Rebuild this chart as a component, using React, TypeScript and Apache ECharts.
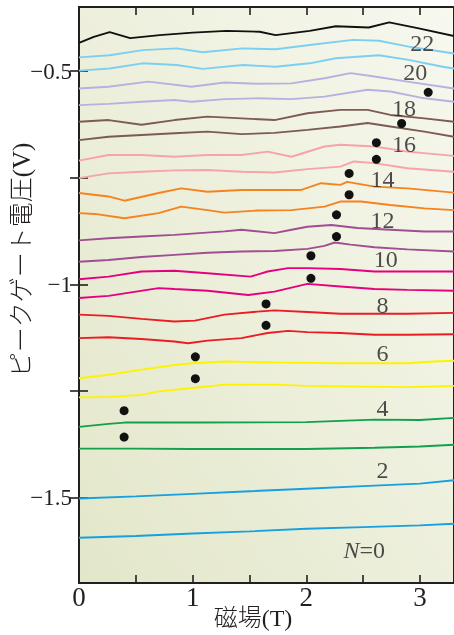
import React, { useEffect, useRef } from "react";
import * as echarts from "echarts";

// ---- data (magnetic field B in T, peak gate voltage in V) ----
const n0 = [[0,-1.594],[0.5,-1.590],[1.0,-1.584],[1.5,-1.579],[2.0,-1.573],[2.5,-1.569],[3.0,-1.565],[3.3,-1.561]];
const n1 = [[0,-1.502],[0.5,-1.497],[1.0,-1.491],[1.5,-1.485],[2.0,-1.479],[2.5,-1.473],[3.0,-1.467],[3.3,-1.459]];
const n2 = [[0,-1.385],[0.5,-1.385],[1.0,-1.386],[1.5,-1.386],[2.0,-1.386],[2.6,-1.383],[3.0,-1.380],[3.3,-1.376]];
const n3 = [[0,-1.334],[0.26,-1.327],[0.4,-1.324],[1.0,-1.324],[2.0,-1.323],[2.6,-1.317],[3.0,-1.318],[3.3,-1.313]];
const n4 = [[0,-1.265],[0.26,-1.264],[0.55,-1.259],[0.7,-1.251],[1.0,-1.243],[1.28,-1.235],[1.72,-1.235],[2.0,-1.238],[2.89,-1.241],[3.3,-1.238]];
const n5 = [[0,-1.220],[0.26,-1.212],[0.55,-1.200],[0.84,-1.189],[1.0,-1.185],[1.28,-1.181],[1.72,-1.183],[2.3,-1.185],[2.89,-1.185],[3.12,-1.181],[3.3,-1.179]];
const n6 = [[0,-1.126],[0.26,-1.124],[0.55,-1.128],[0.84,-1.134],[0.96,-1.138],[1.13,-1.132],[1.43,-1.126],[1.66,-1.114],[1.84,-1.109],[2.01,-1.112],[2.3,-1.114],[2.6,-1.118],[2.89,-1.118],[3.3,-1.117]];
const n7 = [[0,-1.071],[0.26,-1.074],[0.55,-1.081],[0.84,-1.087],[1.02,-1.085],[1.28,-1.071],[1.57,-1.064],[1.72,-1.061],[2.01,-1.065],[2.3,-1.069],[2.89,-1.069],[3.3,-1.067]];
const n8 = [[0,-1.032],[0.26,-1.027],[0.7,-1.009],[0.84,-1.011],[1.13,-1.015],[1.49,-1.025],[1.72,-1.017],[2.01,-0.999],[2.3,-1.005],[2.6,-1.011],[2.89,-1.013],[3.3,-1.015]];
const n9 = [[0,-0.988],[0.26,-0.982],[0.55,-0.970],[0.84,-0.968],[1.13,-0.974],[1.51,-0.982],[1.66,-0.970],[1.84,-0.962],[2.01,-0.962],[2.3,-0.964],[2.6,-0.970],[2.89,-0.970],[3.3,-0.970]];
const n10 = [[0,-0.947],[0.26,-0.943],[0.55,-0.936],[0.84,-0.931],[1.13,-0.926],[1.43,-0.923],[1.72,-0.922],[2.01,-0.917],[2.16,-0.910],[2.25,-0.902],[2.39,-0.907],[2.6,-0.913],[2.89,-0.918],[3.3,-0.923]];
const n11 = [[0,-0.897],[0.26,-0.892],[0.55,-0.888],[0.84,-0.884],[1.28,-0.876],[1.43,-0.872],[1.72,-0.880],[1.87,-0.872],[2.01,-0.865],[2.22,-0.861],[2.45,-0.868],[2.74,-0.872],[3.04,-0.876],[3.3,-0.876]];
const n12 = [[0,-0.833],[0.14,-0.835],[0.4,-0.845],[0.7,-0.833],[0.9,-0.818],[1.13,-0.826],[1.28,-0.832],[1.57,-0.827],[1.87,-0.826],[2.16,-0.818],[2.3,-0.806],[2.48,-0.806],[2.74,-0.814],[3.04,-0.822],[3.3,-0.826]];
const n13 = [[0,-0.786],[0.26,-0.794],[0.4,-0.804],[0.7,-0.786],[0.9,-0.775],[1.13,-0.783],[1.43,-0.779],[1.72,-0.779],[1.95,-0.779],[2.13,-0.763],[2.3,-0.767],[2.36,-0.760],[2.6,-0.771],[2.89,-0.775],[3.3,-0.785]];
const n14 = [[0,-0.751],[0.26,-0.740],[0.55,-0.736],[0.84,-0.733],[1.13,-0.732],[1.43,-0.736],[1.72,-0.738],[2.01,-0.730],[2.3,-0.724],[2.42,-0.712],[2.6,-0.716],[2.89,-0.728],[3.3,-0.736]];
const n15 = [[0,-0.710],[0.26,-0.697],[0.55,-0.697],[0.84,-0.701],[1.13,-0.697],[1.43,-0.697],[1.66,-0.689],[1.87,-0.701],[2.16,-0.677],[2.3,-0.673],[2.6,-0.677],[2.89,-0.689],[3.3,-0.699]];
const n16 = [[0,-0.662],[0.26,-0.654],[0.55,-0.650],[0.84,-0.646],[1.13,-0.642],[1.43,-0.648],[1.72,-0.645],[2.01,-0.638],[2.3,-0.630],[2.54,-0.622],[2.74,-0.630],[3.04,-0.642],[3.3,-0.654]];
const n17 = [[0,-0.619],[0.26,-0.615],[0.55,-0.626],[0.84,-0.615],[1.13,-0.607],[1.43,-0.611],[1.72,-0.615],[2.01,-0.599],[2.3,-0.591],[2.54,-0.591],[2.74,-0.603],[3.04,-0.611],[3.3,-0.619]];
const n18 = [[0,-0.580],[0.26,-0.577],[0.55,-0.572],[0.84,-0.568],[0.99,-0.572],[1.28,-0.566],[1.57,-0.564],[1.87,-0.566],[2.16,-0.560],[2.54,-0.544],[2.74,-0.548],[3.04,-0.564],[3.3,-0.572]];
const n19 = [[0,-0.541],[0.26,-0.537],[0.61,-0.525],[0.99,-0.537],[1.28,-0.527],[1.57,-0.530],[1.87,-0.529],[2.16,-0.517],[2.39,-0.505],[2.6,-0.513],[2.89,-0.525],[3.3,-0.541]];
const n20 = [[0,-0.499],[0.27,-0.494],[0.56,-0.482],[0.86,-0.486],[1.09,-0.495],[1.44,-0.486],[1.73,-0.490],[2.03,-0.482],[2.26,-0.470],[2.64,-0.463],[2.9,-0.474],[3.2,-0.490],[3.3,-0.494]];
const n21 = [[0,-0.468],[0.27,-0.463],[0.56,-0.451],[0.86,-0.447],[1.09,-0.456],[1.44,-0.447],[1.73,-0.449],[2.03,-0.439],[2.41,-0.427],[2.64,-0.429],[2.9,-0.443],[3.2,-0.455],[3.3,-0.459]];
const n22 = [[0,-0.434],[0.13,-0.420],[0.27,-0.409],[0.45,-0.423],[0.71,-0.416],[1.0,-0.410],[1.3,-0.406],[1.59,-0.408],[1.73,-0.416],[2.03,-0.406],[2.26,-0.395],[2.55,-0.398],[2.73,-0.386],[2.99,-0.400],[3.3,-0.418]];

const curves = [n0,n1,n2,n3,n4,n5,n6,n7,n8,n9,n10,n11,n12,n13,n14,n15,n16,n17,n18,n19,n20,n21,n22];
const curveColors = [
  "#16a0df","#16a0df","#12a04c","#12a04c","#fff200","#fff200","#ec1c24","#ec1c24",
  "#e6007e","#e6007e","#a14d92","#a14d92","#f7821e","#f7821e","#f7a3a8","#f7a3a8",
  "#7b5b52","#7b5b52","#b8b0e0","#b8b0e0","#7dcff2","#7dcff2","#111111",
];

const peakB = [0.397,0.397,1.024,1.024,1.646,1.646,2.041,2.041,2.266,2.266,2.377,2.377,2.617,2.617,2.839,3.073];
const peakV = [-1.296,-1.358,-1.170,-1.221,-1.046,-1.096,-0.933,-0.986,-0.837,-0.888,-0.740,-0.790,-0.668,-0.707,-0.623,-0.550];

const labelText = ["{i|N}=0","2","4","6","8","10","12","14","16","18","20","22"];
const labelB = [2.51,2.67,2.67,2.67,2.67,2.70,2.67,2.67,2.86,2.86,2.96,3.02];
const labelV = [-1.622,-1.434,-1.290,-1.161,-1.048,-0.940,-0.849,-0.754,-0.671,-0.587,-0.502,-0.434];

const xTicks = [0.5, 1, 1.5, 2, 2.5, 3];
const xLabels = [0, 1, 2, 3];
const yTicks = [-1.5, -1.25, -1, -0.75, -0.5];
const yLabels = [-1.5, -1, -0.5];

const XMIN = 0, XMAX = 3.3, YMIN = -1.7, YMAX = -0.35;
const INK = "#231f20";
const SERIF = "'Liberation Serif', 'Times New Roman', serif";
const MIXED = "'Liberation Serif', 'Noto Sans CJK JP', serif";

function fmt(v: number) {
  return v < 0 ? "\u2212" + String(Math.abs(v)) : String(v);
}

function xAx(position: string, labels?: number[]) {
  return {
    type: "value", min: XMIN, max: XMAX, position,
    axisLine: { show: false }, splitLine: { show: false },
    axisTick: { show: true, inside: true, length: 8, customValues: xTicks, lineStyle: { color: INK, width: 1.6 } },
    axisLabel: labels
      ? { show: true, customValues: labels, formatter: fmt, color: INK, fontFamily: SERIF, fontSize: 27, margin: 0 }
      : { show: false },
  };
}
function yAx(position: string, labels?: number[]) {
  return {
    type: "value", min: YMIN, max: YMAX, position,
    axisLine: { show: false }, splitLine: { show: false },
    axisTick: { show: true, inside: true, length: 9, customValues: yTicks, lineStyle: { color: INK, width: 1.6 } },
    axisLabel: labels
      ? { show: true, customValues: labels, formatter: fmt, color: INK, fontFamily: SERIF, fontSize: 23, margin: 7 }
      : { show: false },
  };
}

export default function App() {
  const ref = useRef<HTMLDivElement>(null);
  useEffect(() => {
    if (!ref.current) return;
    const chart = echarts.init(ref.current, null, { renderer: "svg" });
    const xAxes: any[] = [
      { ...xAx("bottom", xLabels),
        name: "磁場(T)", nameLocation: "middle", nameGap: 23, nameMoveOverlap: false,
        nameTextStyle: { color: INK, fontSize: 24, fontWeight: 300, fontFamily: MIXED, padding: [0, 27, 0, 0] } },
      xAx("top"),
    ];
    const yAxes: any[] = [
      { ...yAx("left", yLabels),
        name: "ピークゲート電圧(V)", nameLocation: "middle", nameGap: 45, nameMoveOverlap: false,
        nameTextStyle: { color: INK, fontSize: 25, fontWeight: 300, fontFamily: MIXED, padding: [0, 0, 0, 70] } },
      yAx("right"),
    ];
    const lineSeries = curves.map((d, i) => ({
      type: "line", name: "N=" + i, data: d, showSymbol: false, symbol: "none",
      lineStyle: { color: curveColors[i], width: 1.9 }, z: 2, silent: true,
    }));
    chart.setOption({
      animation: false,
      grid: {
        show: true, left: 79, top: 7, right: 0, bottom: 52,
        outerBoundsMode: "none", containLabel: false,
        borderColor: INK, borderWidth: 2,
        backgroundColor: {
          type: "linear", x: 0, y: 1, x2: 1, y2: 0,
          colorStops: [{ offset: 0, color: "#e3e7c9" }, { offset: 1, color: "#f7f8ef" }],
        },
      },
      xAxis: xAxes,
      yAxis: yAxes,
      series: [
        ...lineSeries,
        {
          type: "scatter", data: peakB.map((b, i) => [b, peakV[i]]),
          symbolSize: 9, itemStyle: { color: "#111111", opacity: 1 }, z: 4, silent: true,
        },
        {
          type: "scatter", data: labelB.map((b, i) => [b, labelV[i], labelText[i]]),
          symbolSize: 1, itemStyle: { color: "rgba(0,0,0,0)" }, z: 5, silent: true,
          label: {
            show: true, position: "inside",
            formatter: (p: any) => p.data[2],
            color: INK, fontFamily: SERIF, fontSize: 24,
            rich: { i: { fontStyle: "italic", fontFamily: SERIF, fontSize: 24, color: INK } },
          },
        },
      ],
    });
    return () => chart.dispose();
  }, []);
  return <div ref={ref} style={{ position: "fixed", left: 0, top: 0, width: 454, height: 635 }} />;
}
